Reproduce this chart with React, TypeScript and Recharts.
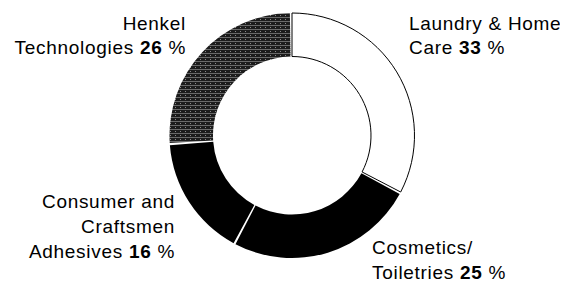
import React from "react";
import { PieChart, Pie, Cell } from "recharts";

const categories = [
  "Laundry & Home Care",
  "Cosmetics/Toiletries",
  "Consumer and Craftsmen Adhesives",
  "Henkel Technologies",
];
const shares = [33, 25, 16, 26];
const labelLines = [
  ["Laundry & Home", "Care"],
  ["Cosmetics/", "Toiletries"],
  ["Consumer and", "Craftsmen", "Adhesives"],
  ["Henkel", "Technologies"],
];

const data = categories.map((name, i) => ({ name, value: shares[i] }));

const fills = ["#ffffff", "#000000", "#000000", "url(#henkelPattern)"];
const strokes = ["#000000", "none", "none", "none"];

// label layout relative to pie centre: [dx, dy of first baseline, anchor, line gap]
const labelLayout: [number, number, "start" | "end", number][] = [
  [117, -105.5, "start", 24],
  [80, 118.5, "start", 25],
  [-117, 72.5, "end", 25],
  [-106, -105.5, "end", 24],
];

const FONT = "'Liberation Sans', Arial, Helvetica, sans-serif";

const renderLabel = (props: any) => {
  const { cx, cy, index, value } = props;
  const [dx, dy, anchor, gap] = labelLayout[index];
  const lines = labelLines[index];
  const x = cx + dx;
  const y0 = cy + dy;
  return (
    <text
      key={`lbl-${index}`}
      x={x}
      y={y0}
      textAnchor={anchor}
      fontFamily={FONT}
      fontSize={19}
      letterSpacing={0.7}
      fill="#000"
    >
      {lines.map((ln, li) => (
        <tspan key={li} x={x} y={y0 + li * gap}>
          {ln}
          {li === lines.length - 1 ? (
            <>
              {" "}
              <tspan fontWeight="bold">{value}</tspan> %
            </>
          ) : null}
        </tspan>
      ))}
    </text>
  );
};

export default function App() {
  return (
    <PieChart width={560} height={274} margin={{ top: 0, right: 0, bottom: 0, left: 0 }}>
      <defs>
        <pattern id="henkelPattern" width="5" height="4" patternUnits="userSpaceOnUse">
          <rect width="5" height="4" fill="#1c1c1c" />
          <rect x="0" y="1" width="5" height="1" fill="#6a6a6a" />
          <rect x="2" y="3" width="1" height="1" fill="#8a8a8a" />
        </pattern>
      </defs>
      <Pie
        data={data}
        dataKey="value"
        nameKey="name"
        cx={284}
        cy={127.5}
        innerRadius={79}
        outerRadius={122.5}
        startAngle={90}
        endAngle={-270}
        paddingAngle={1}
        label={renderLabel}
        labelLine={false}
        isAnimationActive={false}
      >
        {data.map((d, i) => (
          <Cell key={d.name} fill={fills[i]} stroke={strokes[i]} strokeWidth={1} />
        ))}
      </Pie>
    </PieChart>
  );
}
